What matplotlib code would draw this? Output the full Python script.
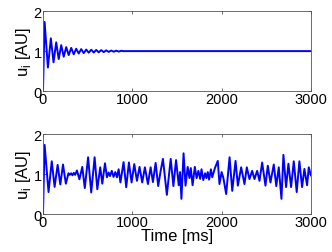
import matplotlib
matplotlib.use("Agg")
import matplotlib.pyplot as plt

plt.rcParams['font.family'] = ['Liberation Sans', 'DejaVu Sans']

# top panel: damped oscillation (extrema)
t_top = [0, 18, 55, 88, 118, 148, 176, 204, 232, 260, 288, 316, 344, 372, 400,
         428, 456, 484, 512, 540, 568, 596, 624, 652, 680, 708, 736, 764, 792,
         820, 848, 876, 900, 3000]
u_top = [0.0, 1.73, 0.59, 1.32, 0.72, 1.22, 0.80, 1.15, 0.86, 1.10, 0.90, 1.08,
         0.92, 1.06, 0.94, 1.05, 0.95, 1.04, 0.96, 1.035, 0.965, 1.03, 0.97,
         1.025, 0.975, 1.02, 0.98, 1.015, 0.985, 1.012, 0.988, 1.008, 1.0, 1.0]

# bottom panel: irregular oscillation (extrema)
t_bot = [0, 18, 62, 98, 130, 164, 194, 224, 256, 285, 300, 315, 330, 345, 360,
         380, 408, 440, 468, 505, 540, 578, 608, 641, 664, 694, 716, 735, 750,
         770, 790, 810, 828, 847, 867, 902, 932, 962, 992, 1022, 1052, 1081,
         1111, 1141, 1175, 1205, 1231, 1261, 1290, 1315, 1343, 1387, 1430, 1460,
         1490, 1520, 1535, 1550, 1574, 1596, 1620, 1640, 1655, 1675, 1700, 1720,
         1740, 1760, 1775, 1795, 1815, 1830, 1845, 1860, 1880, 1895, 1925, 1957,
         1976, 2000, 2020, 2051, 2089, 2119, 2156, 2182, 2219, 2256, 2282, 2312,
         2342, 2368, 2398, 2424, 2454, 2491, 2517, 2547, 2584, 2612, 2640, 2670,
         2692, 2722, 2748, 2778, 2808, 2841, 2871, 2901, 2927, 2957, 2976, 3000]
u_bot = [0.0, 1.73, 0.55, 1.32, 0.68, 1.23, 0.74, 1.24, 0.76, 1.02, 0.98, 1.02,
         0.97, 1.03, 0.98, 1.09, 0.87, 1.18, 0.65, 1.42, 0.54, 1.42, 0.62, 1.17,
         0.76, 1.27, 0.92, 1.04, 0.95, 1.08, 0.93, 1.05, 0.92, 1.12, 0.79, 1.30,
         0.67, 1.29, 0.79, 1.25, 0.83, 1.18, 0.79, 1.17, 0.75, 1.17, 0.80, 1.28,
         0.70, 1.05, 1.38, 0.48, 1.38, 0.70, 1.35, 0.72, 1.05, 0.38, 1.52, 0.71,
         1.18, 0.90, 1.15, 0.72, 1.18, 0.90, 1.08, 0.88, 1.12, 0.85, 1.02, 0.90,
         1.05, 0.86, 1.12, 0.92, 1.15, 1.33, 0.75, 1.05, 0.90, 0.50, 1.42, 0.58,
         1.33, 0.71, 1.17, 0.75, 1.17, 0.875, 1.08, 0.875, 1.08, 0.83, 1.29, 0.71,
         1.21, 0.79, 1.24, 0.70, 1.17, 0.38, 1.48, 0.675, 1.26, 0.675, 1.32, 0.55,
         1.32, 0.675, 1.13, 0.72, 1.17, 0.97]

xticks = [0, 1000, 2000, 3000]
yticks = [0, 1, 2]

fig = plt.figure(figsize=(3.32, 2.53), dpi=100)
ax1 = fig.add_axes([0.1295, 0.636, 0.807, 0.316])
ax2 = fig.add_axes([0.1295, 0.150, 0.807, 0.316])

for ax, t, u in [(ax1, t_top, u_top), (ax2, t_bot, u_bot)]:
    ax.plot(t, u, color='#0000ff', lw=1.4)
    ax.set_xlim(0, 3000)
    ax.set_ylim(0, 2)
    ax.set_xticks(xticks)
    ax.set_yticks(yticks)
    ax.tick_params(direction='in', length=2.5, width=0.5, labelsize=10.5,
                   top=True, right=True, pad=1, colors='#333333', labelcolor='black')
    for s in ax.spines.values():
        s.set_linewidth(0.6)
        s.set_color('#555555')
    ax.set_ylabel(r'u$_\mathregular{i}$ [AU]', fontsize=12, labelpad=0)

ax2.set_xlabel('Time [ms]', fontsize=12, labelpad=-1)

fig.savefig('out.png', dpi=100)
